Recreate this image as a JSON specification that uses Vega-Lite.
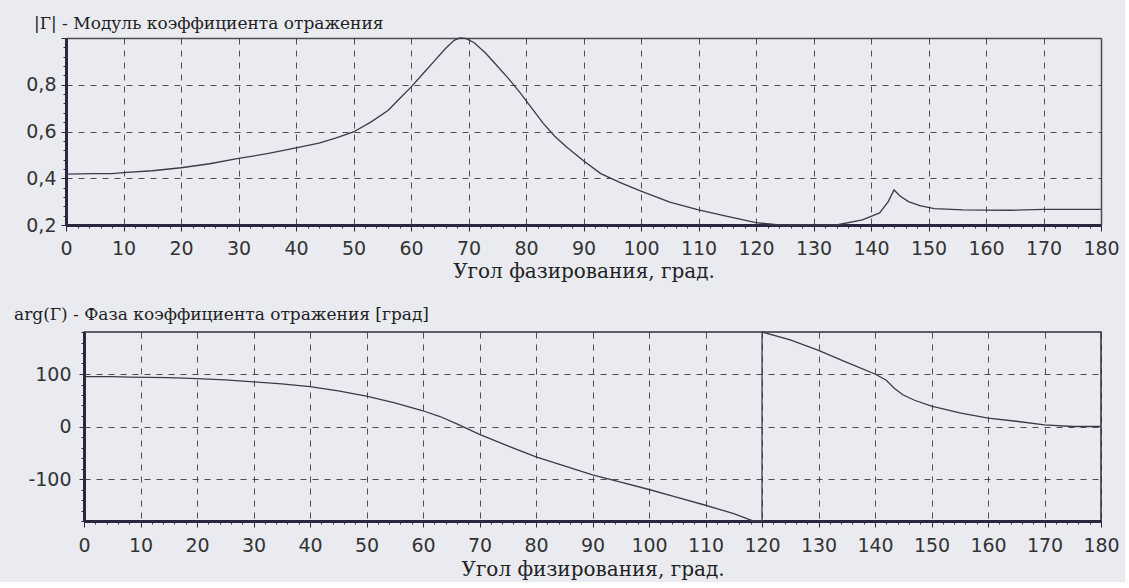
{
  "$schema": "https://vega.github.io/schema/vega-lite/v6.json",
  "background": "#e9ebf1",
  "padding": {"left": 13, "top": 15, "right": 5, "bottom": 2},
  "datasets": {
    "mod": [
      {"angle": 0, "mag": 0.418}, {"angle": 5, "mag": 0.42}, {"angle": 8, "mag": 0.42}, {"angle": 10, "mag": 0.424},
      {"angle": 15, "mag": 0.432}, {"angle": 20, "mag": 0.445}, {"angle": 25, "mag": 0.462}, {"angle": 30, "mag": 0.485},
      {"angle": 35, "mag": 0.505}, {"angle": 40, "mag": 0.53}, {"angle": 44, "mag": 0.55}, {"angle": 47, "mag": 0.573},
      {"angle": 50, "mag": 0.598}, {"angle": 53, "mag": 0.64}, {"angle": 56, "mag": 0.69}, {"angle": 58, "mag": 0.74},
      {"angle": 60, "mag": 0.79}, {"angle": 62, "mag": 0.845}, {"angle": 64, "mag": 0.9}, {"angle": 66, "mag": 0.955},
      {"angle": 67.5, "mag": 0.99}, {"angle": 68.5, "mag": 1.0}, {"angle": 69.5, "mag": 0.998}, {"angle": 71, "mag": 0.98},
      {"angle": 73, "mag": 0.935}, {"angle": 75, "mag": 0.88}, {"angle": 77, "mag": 0.825}, {"angle": 79, "mag": 0.765},
      {"angle": 81, "mag": 0.7}, {"angle": 83, "mag": 0.635}, {"angle": 85, "mag": 0.58}, {"angle": 87, "mag": 0.535},
      {"angle": 88.5, "mag": 0.505}, {"angle": 90, "mag": 0.475}, {"angle": 93, "mag": 0.42}, {"angle": 96.5, "mag": 0.38},
      {"angle": 100, "mag": 0.345}, {"angle": 105, "mag": 0.298}, {"angle": 110, "mag": 0.265}, {"angle": 115, "mag": 0.237},
      {"angle": 120, "mag": 0.21}, {"angle": 124, "mag": 0.2}, {"angle": 134, "mag": 0.2}, {"angle": 138.5, "mag": 0.222},
      {"angle": 141.5, "mag": 0.252}, {"angle": 143, "mag": 0.3}, {"angle": 144, "mag": 0.35}, {"angle": 145, "mag": 0.325},
      {"angle": 146.5, "mag": 0.3}, {"angle": 148.5, "mag": 0.283}, {"angle": 151, "mag": 0.27}, {"angle": 156, "mag": 0.265},
      {"angle": 164, "mag": 0.263}, {"angle": 170, "mag": 0.267}, {"angle": 180, "mag": 0.267}
    ],
    "phase": [
      {"angle": 0, "phase": 95}, {"angle": 5, "phase": 95}, {"angle": 8, "phase": 94}, {"angle": 15, "phase": 93},
      {"angle": 20, "phase": 91}, {"angle": 25, "phase": 89}, {"angle": 30, "phase": 85}, {"angle": 35, "phase": 81},
      {"angle": 40, "phase": 76}, {"angle": 45, "phase": 68}, {"angle": 50, "phase": 58}, {"angle": 55, "phase": 45},
      {"angle": 60, "phase": 30}, {"angle": 63, "phase": 19}, {"angle": 66, "phase": 5}, {"angle": 70, "phase": -15},
      {"angle": 75, "phase": -37}, {"angle": 80, "phase": -58}, {"angle": 85, "phase": -75}, {"angle": 90, "phase": -92},
      {"angle": 95, "phase": -106}, {"angle": 100, "phase": -120}, {"angle": 105, "phase": -135}, {"angle": 110, "phase": -150},
      {"angle": 115, "phase": -166}, {"angle": 118.5, "phase": -180}, {"angle": 120, "phase": -180}, {"angle": 120.01, "phase": 180},
      {"angle": 125, "phase": 165}, {"angle": 130, "phase": 145}, {"angle": 135, "phase": 122}, {"angle": 140, "phase": 100},
      {"angle": 142, "phase": 88}, {"angle": 143.5, "phase": 72}, {"angle": 145, "phase": 60}, {"angle": 147, "phase": 50},
      {"angle": 150, "phase": 39}, {"angle": 155, "phase": 26}, {"angle": 160, "phase": 16}, {"angle": 165, "phase": 10},
      {"angle": 170, "phase": 3}, {"angle": 175, "phase": 0}, {"angle": 180, "phase": 0}
    ]
  },
  "spacing": 24,
  "vconcat": [
    {
      "width": 1017,
      "height": 187,
      "view": {"stroke": null, "fill": null},
      "title": {"text": "|Г| -  Модуль коэффициента отражения", "dx": -50, "offset": -4},
      "data": {"name": "mod"},
      "mark": {"type": "line"},
      "encoding": {
        "x": {
          "field": "angle", "type": "quantitative",
          "scale": {"domain": [0, 180], "nice": false, "range": [-18, 1017]},
          "axis": {
            "values": [0,2,4,6,8,10,12,14,16,18,20,22,24,26,28,30,32,34,36,38,40,42,44,46,48,50,52,54,56,58,60,62,64,66,68,70,72,74,76,78,80,82,84,86,88,90,92,94,96,98,100,102,104,106,108,110,112,114,116,118,120,122,124,126,128,130,132,134,136,138,140,142,144,146,148,150,152,154,156,158,160,162,164,166,168,170,172,174,176,178,180],
            "labelExpr": "datum.value % 10 === 0 ? datum.label : ''",
            "title": "Угол фазирования, град.",
            "titlePadding": 3,
            "labelPadding": 8,
            "tickSize": {"condition": {"test": "datum.value % 10 === 0", "value": 6}, "value": 3},
            "gridOpacity": {"condition": {"test": "datum.value % 10 === 0", "value": 0.85}, "value": 0},
            "gridDash": {"condition": {"test": "datum.value === 180", "value": [1, 0]}, "value": [6, 6]},
            "gridWidth": {"condition": {"test": "datum.value === 180", "value": 1.5}, "value": 1}
          }
        },
        "y": {
          "field": "mag", "type": "quantitative",
          "scale": {"domain": [0.2, 1], "nice": false, "zero": false},
          "axis": {
            "values": [0.2,0.24,0.28,0.32,0.36,0.4,0.44,0.48,0.52,0.56,0.6,0.64,0.68,0.72,0.76,0.8,0.84,0.88,0.92,0.96,1],
            "labelExpr": "abs(datum.value*5 - round(datum.value*5)) < 0.001 && datum.value < 0.99 ? replace(format(datum.value, '.1f'), '.', ',') : ''",
            "title": null,
            "offset": 18,
            "labelPadding": 5,
            "tickSize": {"condition": {"test": "abs(datum.value*5 - round(datum.value*5)) < 0.001", "value": 5}, "value": 3},
            "gridOpacity": {"condition": {"test": "abs(datum.value*5 - round(datum.value*5)) < 0.001", "value": 0.85}, "value": 0},
            "gridDash": {"condition": {"test": "datum.value > 0.99", "value": [1, 0]}, "value": [6, 6]},
            "gridWidth": {"condition": {"test": "datum.value > 0.99", "value": 1.5}, "value": 1}
          }
        }
      }
    },
    {
      "width": 1017,
      "height": 189,
      "title": {"text": "arg(Г) - Фаза коэффициента отражения [град]", "dx": -70, "offset": -1},
      "data": {"name": "phase"},
      "mark": {"type": "line"},
      "encoding": {
        "x": {
          "field": "angle", "type": "quantitative",
          "scale": {"domain": [0, 180], "nice": false},
          "axis": {
            "values": [0,2,4,6,8,10,12,14,16,18,20,22,24,26,28,30,32,34,36,38,40,42,44,46,48,50,52,54,56,58,60,62,64,66,68,70,72,74,76,78,80,82,84,86,88,90,92,94,96,98,100,102,104,106,108,110,112,114,116,118,120,122,124,126,128,130,132,134,136,138,140,142,144,146,148,150,152,154,156,158,160,162,164,166,168,170,172,174,176,178,180],
            "labelExpr": "datum.value % 10 === 0 ? datum.label : ''",
            "title": "Угол физирования, град.",
            "titlePadding": 4,
            "labelPadding": 9,
            "tickSize": {"condition": {"test": "datum.value % 10 === 0", "value": 6}, "value": 3},
            "gridOpacity": {"condition": {"test": "datum.value % 10 === 0", "value": 0.85}, "value": 0}
          }
        },
        "y": {
          "field": "phase", "type": "quantitative",
          "scale": {"domain": [-180, 180], "nice": false, "zero": false},
          "axis": {
            "values": [-180,-160,-140,-120,-100,-80,-60,-40,-20,0,20,40,60,80,100,120,140,160,180],
            "labelExpr": "datum.value === 100 ? '100' : datum.value === 0 ? '0' : datum.value === -100 ? '-100' : ''",
            "title": null,
            "labelPadding": 8,
            "tickSize": {"condition": {"test": "abs(datum.value) === 100 || datum.value === 0", "value": 5}, "value": 3},
            "gridOpacity": {"condition": {"test": "abs(datum.value) === 100 || datum.value === 0", "value": 0.85}, "value": 0}
          }
        }
      }
    }
  ],
  "config": {
    "view": {"stroke": "#2f2f3a", "strokeWidth": 1.5, "fill": null},
    "axis": {
      "labelFont": "DejaVu Sans", "labelFontSize": 19, "labelColor": "#333",
      "titleFont": "DejaVu Serif", "titleFontSize": 20, "titleFontWeight": "normal", "titleColor": "#222",
      "domainColor": "#2a2840", "domainWidth": 3, "tickColor": "#2a2840",
      "gridColor": "#333", "gridDash": [6, 6], "labelOverlap": false, "labelFlush": false
    },
    "title": {"font": "DejaVu Serif", "fontSize": 17, "fontWeight": "normal", "color": "#222", "anchor": "start", "frame": "group"},
    "line": {"color": "#3a3a48", "strokeWidth": 1.3}
  }
}
